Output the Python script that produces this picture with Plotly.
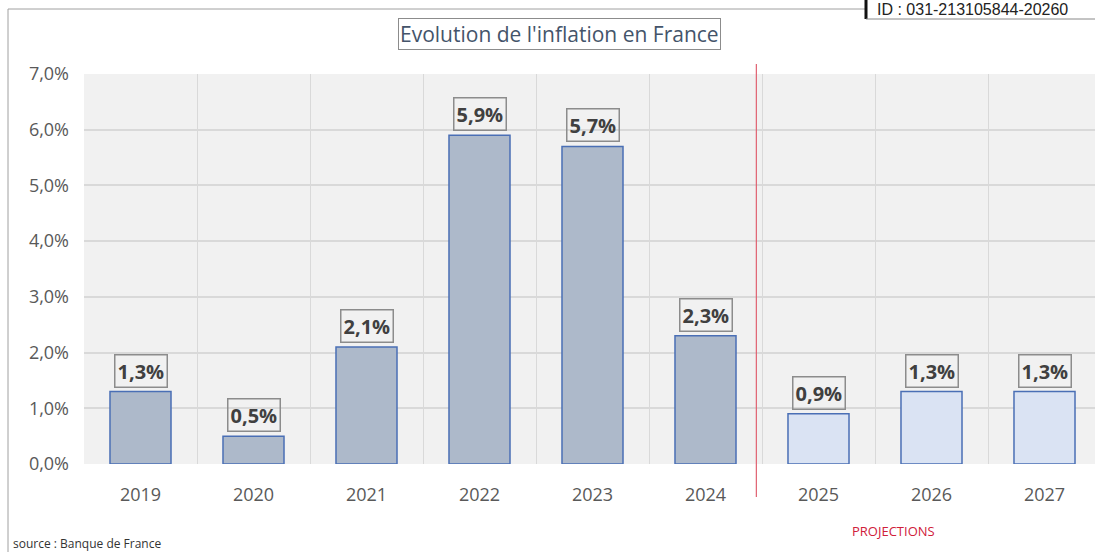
import plotly.graph_objects as go

years = ["2019", "2020", "2021", "2022", "2023", "2024", "2025", "2026", "2027"]
inflation = [1.3, 0.5, 2.1, 5.9, 5.7, 2.3, 0.9, 1.3, 1.3]
is_projection = [False, False, False, False, False, False, True, True, True]
y_ticks = [0, 1, 2, 3, 4, 5, 6, 7]
y_tick_labels = ["0,0%", "1,0%", "2,0%", "3,0%", "4,0%", "5,0%", "6,0%", "7,0%"]

W, H = 1095, 552
L, R, T, B = 84, 0, 74, 88
PW, PH = W - L - R, H - T - B

def px(x):
    return (x - L) / PW

def py(y):
    return (H - B - y) / PH

xpos = list(range(len(years)))
fills = ["#dae3f3" if p else "#adb9ca" for p in is_projection]

fig = go.Figure()
fig.add_trace(go.Bar(
    x=xpos, y=inflation, width=0.54,
    marker=dict(color=fills, line=dict(color="#4a6fb5", width=1.5)),
    hoverinfo="skip", showlegend=False,
))

for x, v in zip(xpos, inflation):
    fig.add_annotation(
        x=x, y=v, xref="x", yref="y", yanchor="bottom", yshift=4,
        text=f"<b>{v:.1f}%</b>".replace(".", ","), showarrow=False,
        font=dict(family="Open Sans", size=20, color="#404040"),
        bordercolor="#8c8c8c", borderwidth=1.5, borderpad=2,
    )

cat_width = 113.0
xmax = -0.5 + PW / cat_width

fig.update_layout(
    width=W, height=H,
    margin=dict(l=L, r=R, t=T, b=B, autoexpand=False),
    paper_bgcolor="white", plot_bgcolor="#f1f1f1",
    xaxis=dict(
        range=[-0.5, xmax], tickvals=xpos, ticktext=years,
        showgrid=False, zeroline=False, showline=False, ticks="",
        tickfont=dict(family="Open Sans", size=18, color="#595959"),
        minor=dict(tick0=0.5, dtick=1, showgrid=True, gridcolor="#d9d9d9", gridwidth=1, ticks=""),
        ticklabelstandoff=18,
    ),
    yaxis=dict(
        range=[0, 7], tickvals=y_ticks, ticktext=y_tick_labels,
        showgrid=True, gridcolor="#d9d9d9", gridwidth=1.5, zeroline=False,
        tickfont=dict(family="Open Sans", size=18, color="#595959"),
        ticklabelstandoff=14,
    ),
)

# projection divider
fig.add_shape(type="line", xref="x", yref="paper", x0=5.45, x1=5.45,
              y0=py(64), y1=py(497), line=dict(color="#e06070", width=1.2))

# outer frame lines
fig.add_shape(type="line", xref="paper", yref="paper", x0=px(8), x1=px(8),
              y0=py(9), y1=py(552), line=dict(color="#a0a0a0", width=1))
fig.add_shape(type="line", xref="paper", yref="paper", x0=px(8), x1=px(866),
              y0=py(9), y1=py(9), line=dict(color="#a0a0a0", width=1))

# ID box
fig.add_shape(type="rect", xref="paper", yref="paper", x0=px(866), x1=px(1100),
              y0=py(19), y1=py(-5), line=dict(width=0), fillcolor="white")
fig.add_shape(type="line", xref="paper", yref="paper", x0=px(866), x1=px(866),
              y0=py(19), y1=py(-2), line=dict(color="#111111", width=3))
fig.add_shape(type="line", xref="paper", yref="paper", x0=px(866), x1=px(1100),
              y0=py(19), y1=py(19), line=dict(color="#888888", width=1))
fig.add_annotation(xref="paper", yref="paper", x=px(875), y=py(10), xanchor="left",
                   yanchor="middle", text="ID : 031-213105844-20260", showarrow=False,
                   font=dict(family="Liberation Sans", size=16, color="#222222"))

# title
fig.add_annotation(xref="paper", yref="paper", x=px(559), y=py(34), xanchor="center",
                   yanchor="middle", text="Evolution de l'inflation en France", showarrow=False,
                   font=dict(family="Open Sans", size=21, color="#44546a"),
                   bordercolor="#8c8c8c", borderwidth=1, borderpad=1, bgcolor="white")

fig.add_annotation(xref="paper", yref="paper", x=px(893), y=py(531), xanchor="center",
                   yanchor="middle", text="PROJECTIONS", showarrow=False,
                   font=dict(family="Open Sans", size=13, color="#d0203a"))
fig.add_annotation(xref="paper", yref="paper", x=px(11), y=py(543), xanchor="left",
                   yanchor="middle", text="source : Banque de France", showarrow=False,
                   font=dict(family="Open Sans", size=12, color="#333333"))

fig.write_html("out.html", config={"displayModeBar": False},
               post_script="document.body.style.margin='0';document.body.style.overflow='hidden';")
